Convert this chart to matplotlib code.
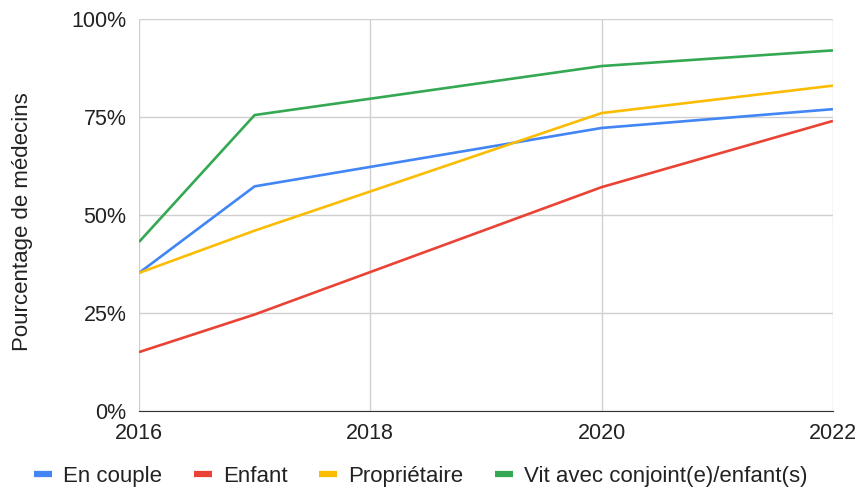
import matplotlib.pyplot as plt
from matplotlib.ticker import PercentFormatter

plt.rcParams["font.family"] = ["Liberation Sans", "DejaVu Sans"]

years = [2016, 2017, 2020, 2022]
en_couple = [35.2, 57.3, 72.2, 77.0]
enfant = [15.0, 24.6, 57.1, 74.0]
proprietaire = [35.2, 46.0, 76.0, 83.0]
vit_avec = [43.1, 75.5, 88.0, 92.0]

series = [
    ("En couple", en_couple, "#4285F4"),
    ("Enfant", enfant, "#EA4335"),
    ("Propriétaire", proprietaire, "#FBBC04"),
    ("Vit avec conjoint(e)/enfant(s)", vit_avec, "#34A853"),
]

fs = 15.5
txt = "#222222"

fig = plt.figure(figsize=(8.61, 4.88), dpi=100)
ax = fig.add_axes([0.1614, 0.158, 0.806, 0.803])

for name, vals, color in series:
    ax.plot(years, vals, color=color, lw=1.9, label=name, solid_capstyle="butt")

ax.set_xlim(2016, 2022)
ax.set_ylim(0, 100)
ax.set_xticks([2016, 2018, 2020, 2022])
ax.set_yticks([0, 25, 50, 75, 100])
ax.yaxis.set_major_formatter(PercentFormatter(decimals=0))
ax.grid(True, color="#d0d0d0", lw=1)
ax.set_axisbelow(True)
for side in ["top", "right", "left"]:
    ax.spines[side].set_visible(False)
ax.spines["bottom"].set_color("#333333")
ax.tick_params(length=0, labelsize=fs, colors=txt)
ax.tick_params(axis="x", pad=9)
ax.tick_params(axis="y", pad=9)
ax.set_ylabel("Pourcentage de médecins", fontsize=16, color=txt)
ax.yaxis.set_label_coords(-0.153, 0.483)

leg = fig.legend(loc="lower center", bbox_to_anchor=(0.489, -0.038), ncol=4,
                 frameon=False, fontsize=16, handlelength=0.8, handletextpad=0.5,
                 columnspacing=1.43, labelcolor=txt)
for h in leg.legend_handles:
    h.set_linewidth(4.5)

fig.savefig("out.png", dpi=100)
